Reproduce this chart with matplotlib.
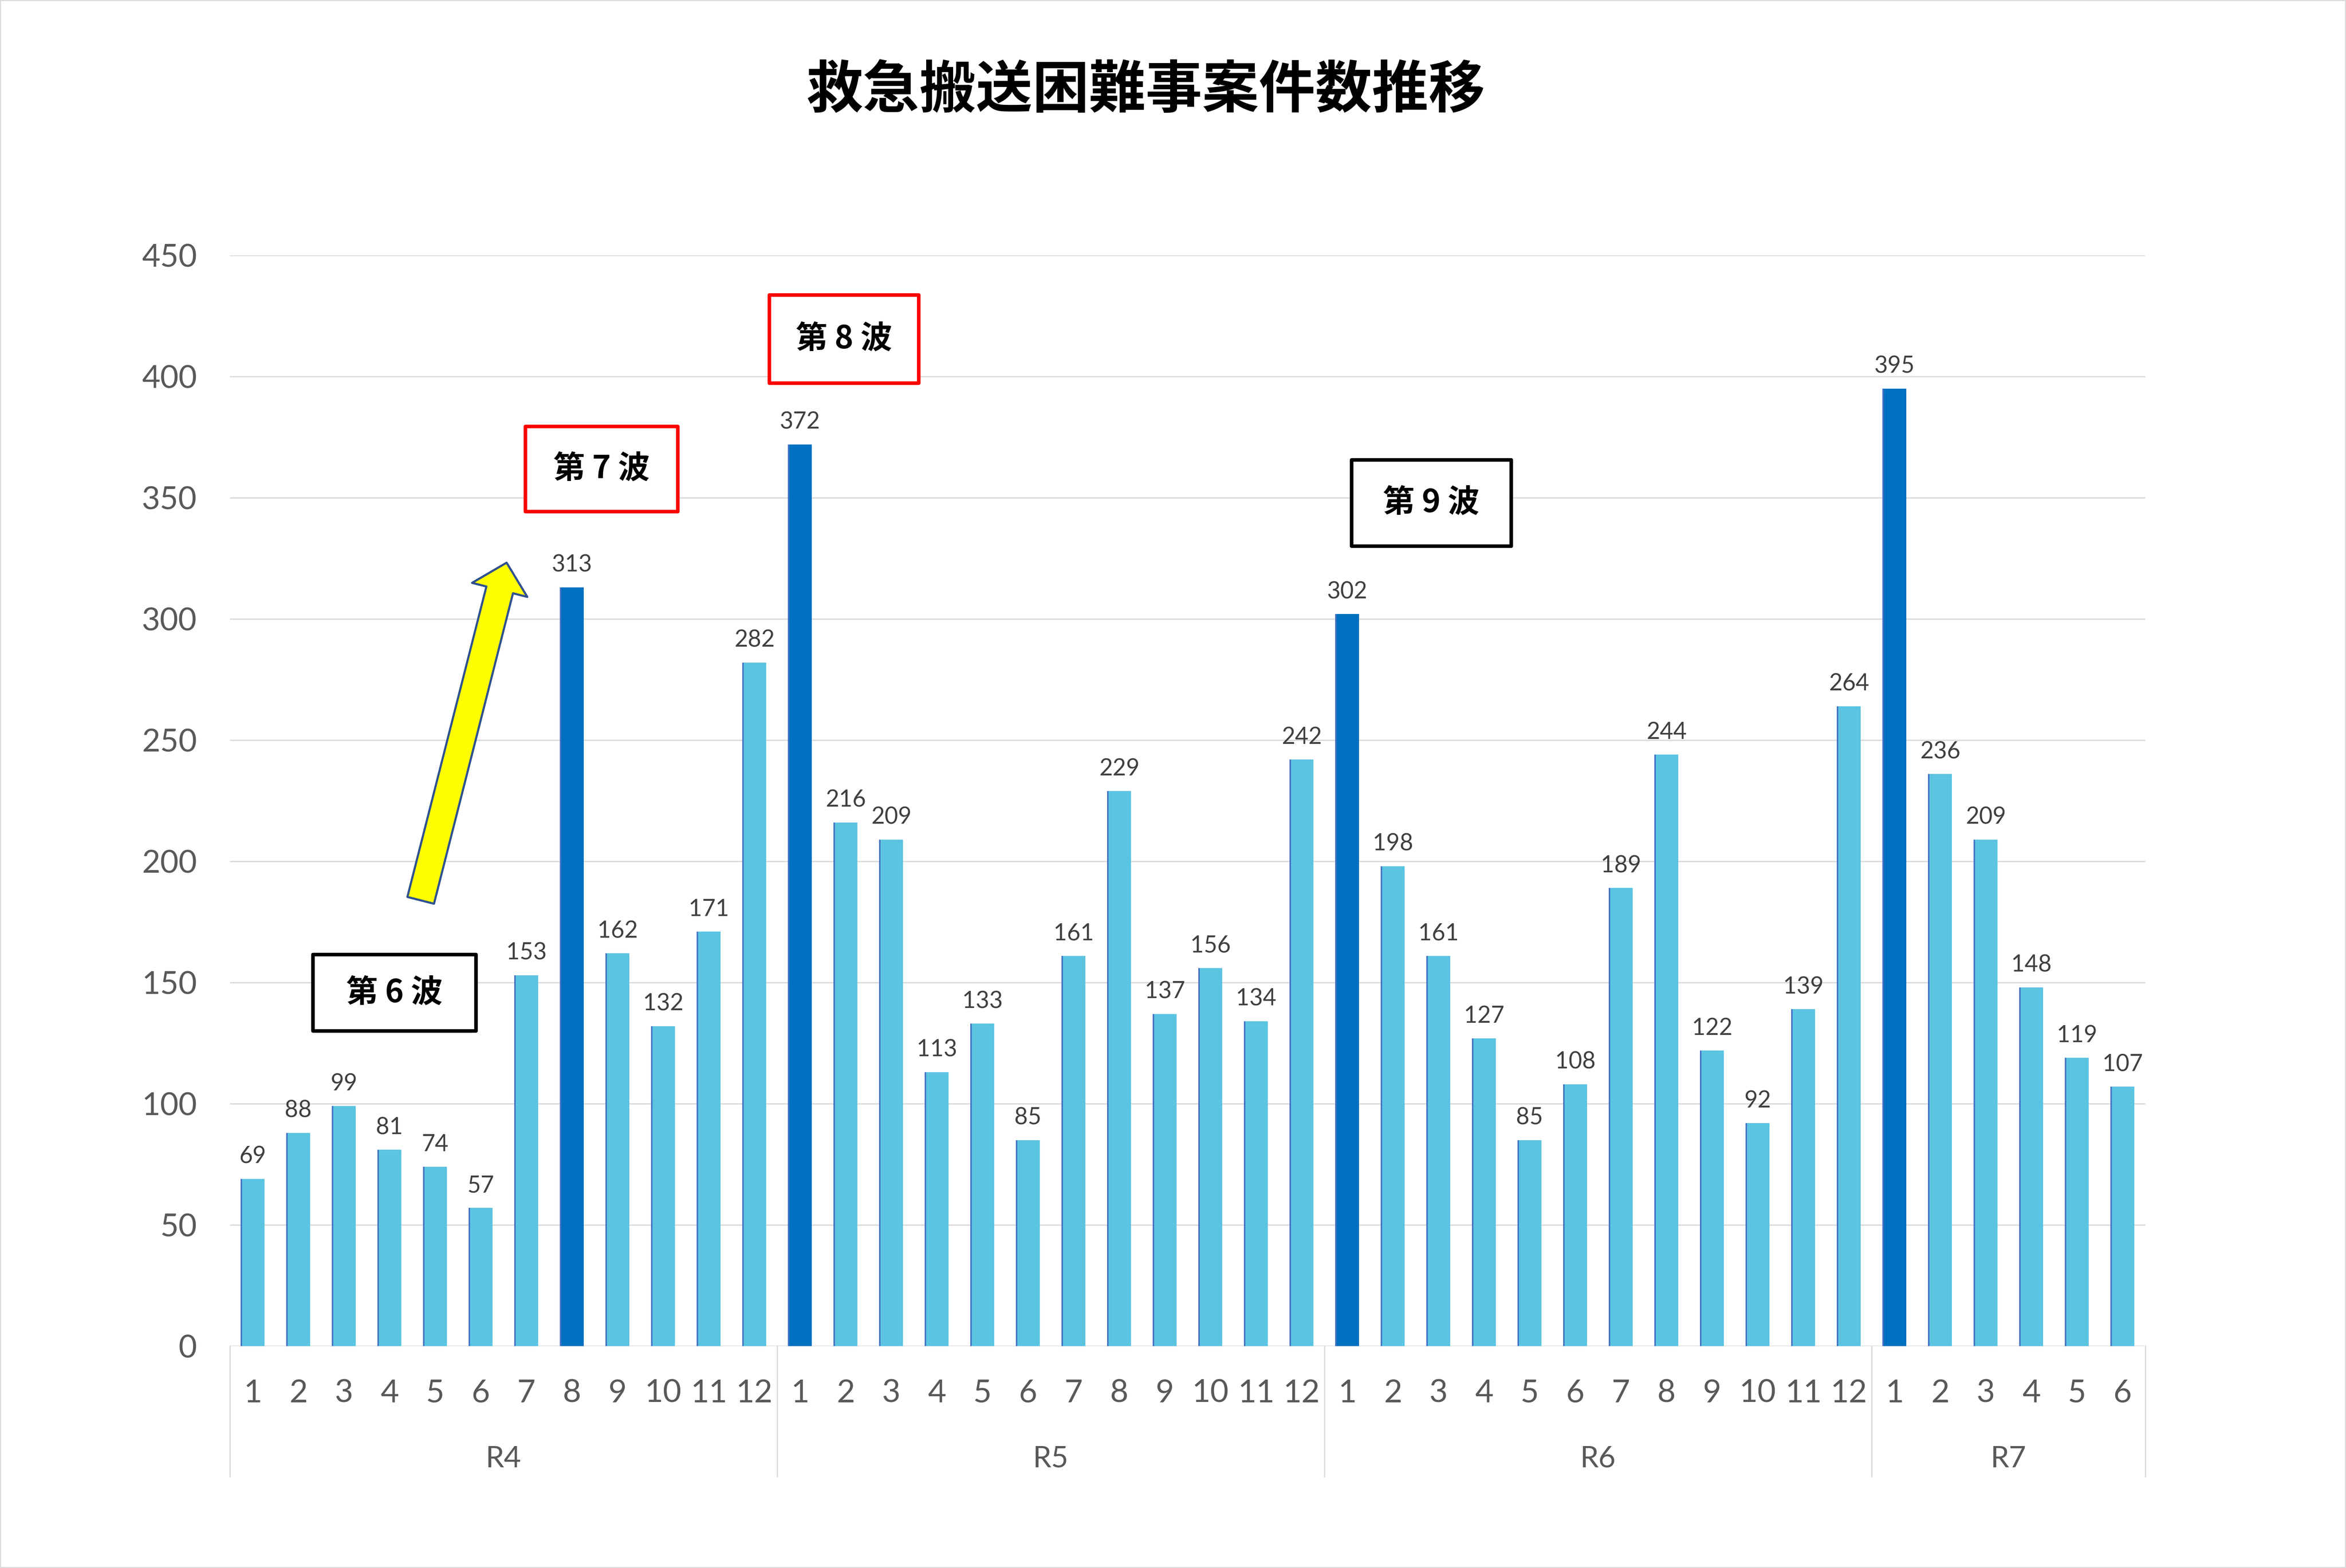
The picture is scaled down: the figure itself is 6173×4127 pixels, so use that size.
import matplotlib
matplotlib.use('Agg')
import matplotlib.pyplot as plt
from matplotlib.patches import Rectangle, FancyArrowPatch, ArrowStyle
from matplotlib.lines import Line2D
import matplotlib.transforms as mtransforms
import numpy as np

plt.rcParams['font.family'] = ['Lato', 'Noto Sans CJK JP', 'DejaVu Sans']

# ---------------- data ----------------
title = '救急搬送困難事案件数推移'
years = ['R4', 'R5', 'R6', 'R7']
r4 = [69, 88, 99, 81, 74, 57, 153, 313, 162, 132, 171, 282]
r5 = [372, 216, 209, 113, 133, 85, 161, 229, 137, 156, 134, 242]
r6 = [302, 198, 161, 127, 85, 108, 189, 244, 122, 92, 139, 264]
r7 = [395, 236, 209, 148, 119, 107]
peak_month = {'R4': 8, 'R5': 1, 'R6': 1, 'R7': 1}
y_ticks = [0, 50, 100, 150, 200, 250, 300, 350, 400, 450]

wave_labels = ['第 6 波', '第 7 波', '第 8 波', '第 9 波']
wave_colors = ['black', '#FF0000', '#FF0000', 'black']
# box extents in data units: (x0, x1, y0, y1)
wave_boxes = [(1.317, 4.89, 130.1, 161.6),
              (5.975, 9.317, 344.4, 379.5),
              (11.325, 14.6, 397.3, 433.7),
              (24.09, 27.59, 330.1, 365.7)]
arrow_from = (3.683, 183.9)
arrow_to = (5.567, 323.2)

# ---------------- style ----------------
LIGHT = '#5BC4E1'
DARK = '#0070C0'
EDGE = '#4472C4'
GRID = '#D9D9D9'
TICK = '#595959'
LABEL = '#404040'

series = [r4, r5, r6, r7]
values, months, year_idx = [], [], []
for yi, (yr, s) in enumerate(zip(years, series)):
    for m, v in enumerate(s, start=1):
        values.append(v)
        months.append(m)
        year_idx.append(yi)
x = np.arange(len(values))
colors = [DARK if months[i] == peak_month[years[year_idx[i]]] else LIGHT for i in x]

W, H, DPI = 6173, 4127, 400
fig = plt.figure(figsize=(W / DPI, H / DPI), dpi=DPI)
ax = fig.add_axes([605 / W, 1 - 3543 / H, 5040 / W, 2871 / H])

bw = 0.52
ax.bar(x, values, width=bw, color=colors, linewidth=0, zorder=2)
ax.vlines(x - bw / 2 + 0.012, 0, values, color=EDGE, lw=0.7, zorder=3)

for xi, v in zip(x, values):
    ax.annotate(str(v), (xi, v), xytext=(0, 7.4), textcoords='offset points',
                ha='center', va='baseline', fontsize=11, color=LABEL, zorder=5)

ax.set_xlim(-0.5, len(values) - 0.5)
ax.set_ylim(0, 450)
ax.set_yticks(y_ticks)
ax.yaxis.grid(True, color=GRID, lw=0.6)
ax.set_axisbelow(True)
for sp in ax.spines.values():
    sp.set_visible(False)
ax.tick_params(axis='y', length=0, pad=15.7, labelsize=15, labelcolor=TICK)
ax.set_xticks([])
ax.axhline(0, color=GRID, lw=0.6, zorder=1)

# month labels
for xi, m in zip(x, months):
    ax.annotate(str(m), xy=(xi, 0), xycoords=('data', 'axes fraction'),
                xytext=(0, -26.6), textcoords='offset points',
                ha='center', va='baseline', fontsize=15, color=TICK,
                annotation_clip=False)

# year labels and separators
trans = mtransforms.blended_transform_factory(ax.transData, ax.transAxes)
start = 0
bounds = [-0.5]
for yr, s in zip(years, series):
    center = start + (len(s) - 1) / 2
    ax.annotate(yr, xy=(center, 0), xycoords=('data', 'axes fraction'),
                xytext=(0, -57.4), textcoords='offset points',
                ha='center', va='baseline', fontsize=14, color=TICK,
                annotation_clip=False)
    start += len(s)
    bounds.append(start - 0.5)
for b in bounds:
    ax.add_line(Line2D([b, b], [0, -343 / 2871], transform=trans, color=GRID,
                       lw=0.6, clip_on=False))

# wave boxes
for lab, col, (x0, x1, y0, y1) in zip(wave_labels, wave_colors, wave_boxes):
    ax.add_patch(Rectangle((x0, y0), x1 - x0, y1 - y0, facecolor='white',
                           edgecolor=col, lw=1.7, zorder=6, clip_on=False,
                           joinstyle='round'))
    ax.text((x0 + x1) / 2, (y0 + y1) / 2, lab, ha='center', va='center',
            fontsize=15, fontweight='bold', family=['Noto Sans CJK JP', 'DejaVu Sans'],
            color='black', zorder=7)

# arrow
arr = FancyArrowPatch(arrow_from, arrow_to,
                      arrowstyle=ArrowStyle.Simple(head_length=13.3, head_width=27, tail_width=13),
                      mutation_scale=1, facecolor='#FFFF00', edgecolor='#2F528F',
                      lw=1.0, shrinkA=0, shrinkB=0, zorder=6, clip_on=False)
ax.add_patch(arr)

# title
fig.text(3015 / W, 1 - 239 / H, title, ha='center', va='center', fontsize=26.8,
         fontweight='bold', family=['Noto Sans CJK JP', 'DejaVu Sans'], color='black')

# figure border
fig.patches.append(Rectangle((0, 0), 1, 1, transform=fig.transFigure, fill=False,
                             edgecolor=GRID, lw=1.0))

fig.savefig('out.png', dpi=DPI)
